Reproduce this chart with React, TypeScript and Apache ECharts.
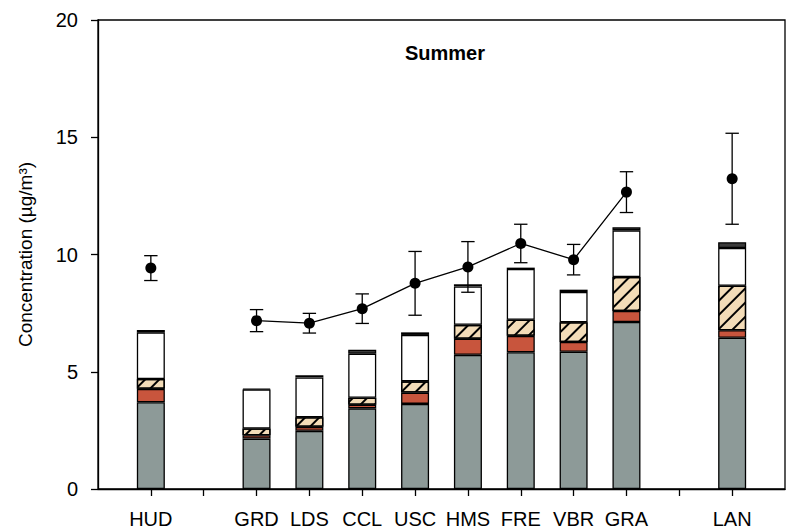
import React, { useEffect, useRef } from 'react';
import * as echarts from 'echarts';

// Site slots along the x axis; empty strings are spacer slots between site groups.
const sites = ['', 'HUD', '', 'GRD', 'LDS', 'CCL', 'USC', 'HMS', 'FRE', 'VBR', 'GRA', '', 'LAN', ''];
const N = '-';

// Stacked PM components, µg/m³ (bottom to top)
const grayPart = [N, 3.70, N, 2.15, 2.48, 3.44, 3.63, 5.72, 5.83, 5.85, 7.12, N, 6.45, N];
const redPart = [N, 0.57, N, 0.14, 0.17, 0.15, 0.48, 0.69, 0.70, 0.42, 0.47, N, 0.32, N];
const hatchPart = [N, 0.42, N, 0.29, 0.41, 0.30, 0.48, 0.59, 0.69, 0.84, 1.45, N, 1.90, N];
const whitePart = [N, 1.99, N, 1.66, 1.70, 1.88, 1.98, 1.64, 2.16, 1.29, 1.99, N, 1.61, N];
const darkPart = [N, 0.10, N, 0.03, 0.09, 0.17, 0.11, 0.09, 0.06, 0.10, 0.13, N, 0.24, N];

// Measured mass concentration and its standard deviation
const measured = [N, 9.42, N, 7.18, 7.07, 7.69, 8.77, 9.47, 10.47, 9.78, 12.66, N, 13.23, N];
const measuredSd = [N, 0.53, N, 0.47, 0.42, 0.63, 1.36, 1.08, 0.82, 0.65, 0.87, N, 1.94, N];

const yTicks = { min: 0, max: 20, interval: 5 };

const FONT = 'Liberation Sans, Arial, Helvetica, sans-serif';

export default function App() {
  const ref = useRef<HTMLDivElement>(null);

  useEffect(() => {
    if (!ref.current) return;
    const chart = echarts.init(ref.current, undefined, { renderer: 'svg' });

    const errData: any[] = [];
    measured.forEach((m, i) => {
      if (m === N) return;
      const v = m as number;
      const sd = measuredSd[i] as number;
      errData.push([i, v - sd, v + sd]);
    });

    const segStyle = (color: string, extra: any = {}) => ({
      color,
      borderColor: '#000',
      borderWidth: 1.3,
      ...extra,
    });

    const bar = (name: string, data: any[], style: any) => ({
      type: 'bar',
      name,
      stack: 'total',
      data,
      barWidth: 28,
      itemStyle: style,
      emphasis: { disabled: true },
      z: 2,
    });

    chart.setOption({
      animation: false,
      title: {
        text: 'Summer',
        left: 440,
        top: 38,
        textAlign: 'center',
        textStyle: { fontFamily: FONT, fontSize: 20, fontWeight: 'bold', color: '#000' },
      },
      grid: {
        left: 98,
        top: 20,
        width: 700.7,
        height: 469.5,
        show: true,
        borderColor: '#000',
        borderWidth: 1.3,
        backgroundColor: 'transparent',
      },
      xAxis: {
        type: 'category',
        data: sites,
        boundaryGap: false,
        axisLine: { lineStyle: { color: '#000', width: 1.3 } },
        axisTick: {
          show: true,
          length: 7,
          lineStyle: { color: '#000', width: 1.3 },
          interval: (idx: number) => idx > 0 && idx < sites.length - 1,
        },
        axisLabel: { interval: 0, fontSize: 20, color: '#000', fontFamily: FONT, margin: 20 },
        splitLine: { show: false },
      },
      yAxis: {
        type: 'value',
        ...yTicks,
        name: 'Concentration (µg/m³)',
        nameLocation: 'middle',
        nameRotate: 90,
        nameGap: 63,
        nameTextStyle: { fontFamily: FONT, fontSize: 19, color: '#000' },
        axisLine: { show: true, lineStyle: { color: '#000', width: 1.3 } },
        axisTick: { show: true, length: 7, lineStyle: { color: '#000', width: 1.3 } },
        axisLabel: { fontSize: 20, color: '#000', fontFamily: FONT, margin: 20 },
        splitLine: { show: false },
      },
      series: [
        bar('gray', grayPart, segStyle('#8D9A98')),
        bar('red', redPart, segStyle('#C8553D')),
        bar(
          'hatch',
          hatchPart,
          segStyle('#F3DCB8', {
            decal: {
              symbol: 'rect',
              symbolSize: 1,
              color: '#000',
              dashArrayX: [1, 0],
              dashArrayY: [1.3, 8],
              rotation: -Math.PI / 4,
            },
          })
        ),
        bar('white', whitePart, segStyle('#FFFFFF')),
        bar('dark', darkPart, segStyle('#3B3B3B')),
        {
          type: 'line',
          name: 'measured',
          data: measured,
          symbol: 'circle',
          symbolSize: 11,
          showSymbol: true,
          connectNulls: false,
          lineStyle: { color: '#000', width: 1.3 },
          itemStyle: { color: '#000', borderWidth: 0 },
          emphasis: { disabled: true },
          z: 5,
        },
        {
          type: 'custom',
          name: 'sd',
          data: errData,
          encode: { x: 0, y: [1, 2] },
          z: 4,
          renderItem: (params: any, api: any) => {
            const x = api.value(0);
            const lo = api.coord([x, api.value(1)]);
            const hi = api.coord([x, api.value(2)]);
            const hw = 6.7;
            const style = { stroke: '#000', lineWidth: 1.3, fill: 'none' };
            return {
              type: 'group',
              children: [
                { type: 'line', shape: { x1: lo[0], y1: lo[1], x2: hi[0], y2: hi[1] }, style },
                { type: 'line', shape: { x1: lo[0] - hw, y1: lo[1], x2: lo[0] + hw, y2: lo[1] }, style },
                { type: 'line', shape: { x1: hi[0] - hw, y1: hi[1], x2: hi[0] + hw, y2: hi[1] }, style },
              ],
            };
          },
        },
      ],
    });

    return () => chart.dispose();
  }, []);

  return (
    <div
      ref={ref}
      style={{ position: 'absolute', left: 0, top: 0, width: 788, height: 529, background: '#fff' }}
    />
  );
}
